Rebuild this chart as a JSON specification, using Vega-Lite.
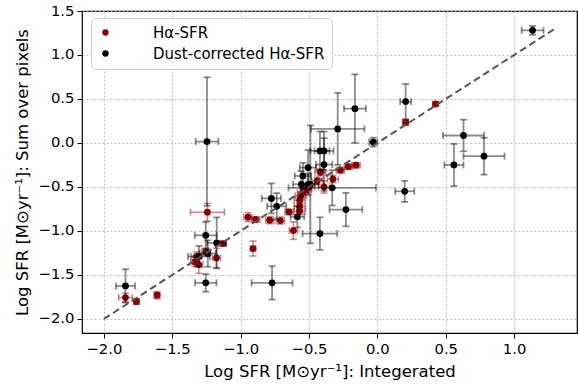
{
  "$schema": "https://vega.github.io/schema/vega-lite/v6.json",
  "width": 495,
  "height": 322,
  "autosize": {"type": "none"},
  "padding": {"left": 82, "top": 11, "right": 1, "bottom": 53},
  "background": "white",
  "config": {
    "font": "DejaVu Sans",
    "view": {"stroke": "black", "strokeWidth": 1.2},
    "axis": {
      "domain": false,
      "grid": true,
      "gridColor": "#b0b0b0",
      "gridDash": [2, 2],
      "gridWidth": 0.8,
      "tickColor": "black",
      "tickSize": 5,
      "labelPadding": 3,
      "labelFont": "DejaVu Sans",
      "labelFontSize": 14.8,
      "labelColor": "black",
      "titleFont": "DejaVu Sans",
      "titleFontSize": 16.5,
      "titleFontWeight": "normal",
      "titleColor": "black"
    },
    "legend": {
      "labelFont": "DejaVu Sans",
      "labelFontSize": 15,
      "labelColor": "black",
      "labelLimit": 400
    }
  },
  "datasets": {
    "ha": [
      {"s": "Hα-SFR", "x": 0.426, "y": 0.443, "xe": 0.02, "ye": 0.02},
      {"s": "Hα-SFR", "x": 0.207, "y": 0.232, "xe": 0.02, "ye": 0.03},
      {"s": "Hα-SFR", "x": -0.156, "y": -0.253, "xe": 0.03, "ye": 0.03},
      {"s": "Hα-SFR", "x": -0.212, "y": -0.27, "xe": 0.03, "ye": 0.03},
      {"s": "Hα-SFR", "x": -0.27, "y": -0.31, "xe": 0.03, "ye": 0.03},
      {"s": "Hα-SFR", "x": -0.417, "y": -0.333, "xe": 0.04, "ye": 0.04},
      {"s": "Hα-SFR", "x": -0.325, "y": -0.41, "xe": 0.04, "ye": 0.04},
      {"s": "Hα-SFR", "x": -0.44, "y": -0.43, "xe": 0.04, "ye": 0.04},
      {"s": "Hα-SFR", "x": -0.39, "y": -0.5, "xe": 0.04, "ye": 0.07},
      {"s": "Hα-SFR", "x": -0.52, "y": -0.53, "xe": 0.04, "ye": 0.04},
      {"s": "Hα-SFR", "x": -0.50, "y": -0.50, "xe": 0.04, "ye": 0.04},
      {"s": "Hα-SFR", "x": -0.544, "y": -0.557, "xe": 0.04, "ye": 0.04},
      {"s": "Hα-SFR", "x": -0.56, "y": -0.60, "xe": 0.04, "ye": 0.04},
      {"s": "Hα-SFR", "x": -0.568, "y": -0.65, "xe": 0.04, "ye": 0.04},
      {"s": "Hα-SFR", "x": -0.568, "y": -0.72, "xe": 0.04, "ye": 0.04},
      {"s": "Hα-SFR", "x": -0.568, "y": -0.776, "xe": 0.04, "ye": 0.04},
      {"s": "Hα-SFR", "x": -0.646, "y": -0.784, "xe": 0.03, "ye": 0.03},
      {"s": "Hα-SFR", "x": -0.614, "y": -0.996, "xe": 0.03, "ye": 0.1},
      {"s": "Hα-SFR", "x": -0.709, "y": -0.882, "xe": 0.03, "ye": 0.04},
      {"s": "Hα-SFR", "x": -0.787, "y": -0.878, "xe": 0.03, "ye": 0.04},
      {"s": "Hα-SFR", "x": -0.89, "y": -0.87, "xe": 0.03, "ye": 0.03},
      {"s": "Hα-SFR", "x": -0.946, "y": -0.844, "xe": 0.03, "ye": 0.05},
      {"s": "Hα-SFR", "x": -1.243, "y": -0.787, "xe": 0.124, "ye": 0.1},
      {"s": "Hα-SFR", "x": -0.909, "y": -1.2, "xe": 0.02, "ye": 0.085},
      {"s": "Hα-SFR", "x": -1.129, "y": -1.143, "xe": 0.02, "ye": 0.03},
      {"s": "Hα-SFR", "x": -1.177, "y": -1.307, "xe": 0.03, "ye": 0.11},
      {"s": "Hα-SFR", "x": -1.255, "y": -1.239, "xe": 0.03, "ye": 0.04},
      {"s": "Hα-SFR", "x": -1.323, "y": -1.288, "xe": 0.04, "ye": 0.05},
      {"s": "Hα-SFR", "x": -1.335, "y": -1.352, "xe": 0.03, "ye": 0.05},
      {"s": "Hα-SFR", "x": -1.306, "y": -1.382, "xe": 0.03, "ye": 0.1},
      {"s": "Hα-SFR", "x": -1.842, "y": -1.757, "xe": 0.05, "ye": 0.05},
      {"s": "Hα-SFR", "x": -1.762, "y": -1.802, "xe": 0.02, "ye": 0.03},
      {"s": "Hα-SFR", "x": -1.611, "y": -1.73, "xe": 0.02, "ye": 0.04}
    ],
    "dust": [
      {"s": "Dust-corrected Hα-SFR", "x": 1.135, "y": 1.28, "xe": 0.08, "ye": 0.05},
      {"s": "Dust-corrected Hα-SFR", "x": 0.207, "y": 0.47, "xe": 0.04, "ye": 0.2},
      {"s": "Dust-corrected Hα-SFR", "x": 0.63, "y": 0.085, "xe": 0.15, "ye": 0.18},
      {"s": "Dust-corrected Hα-SFR", "x": 0.78, "y": -0.15, "xe": 0.15, "ye": 0.21},
      {"s": "Dust-corrected Hα-SFR", "x": 0.56, "y": -0.25, "xe": 0.07, "ye": 0.24},
      {"s": "Dust-corrected Hα-SFR", "x": 0.2, "y": -0.55, "xe": 0.07, "ye": 0.12},
      {"s": "Dust-corrected Hα-SFR", "x": -0.03, "y": 0.01, "xe": 0.03, "ye": 0.05},
      {"s": "Dust-corrected Hα-SFR", "x": -0.164, "y": 0.39, "xe": 0.08, "ye": 0.39},
      {"s": "Dust-corrected Hα-SFR", "x": -0.29, "y": 0.16, "xe": 0.195, "ye": 0.41},
      {"s": "Dust-corrected Hα-SFR", "x": -0.42, "y": -0.09, "xe": 0.07, "ye": 0.22},
      {"s": "Dust-corrected Hα-SFR", "x": -0.39, "y": -0.09, "xe": 0.07, "ye": 0.22},
      {"s": "Dust-corrected Hα-SFR", "x": -0.39, "y": -0.245, "xe": 0.06, "ye": 0.3},
      {"s": "Dust-corrected Hα-SFR", "x": -0.33, "y": -0.51, "xe": 0.32, "ye": 0.2},
      {"s": "Dust-corrected Hα-SFR", "x": -0.23, "y": -0.757, "xe": 0.12, "ye": 0.19},
      {"s": "Dust-corrected Hα-SFR", "x": -0.42, "y": -1.03, "xe": 0.127, "ye": 0.185},
      {"s": "Dust-corrected Hα-SFR", "x": -0.77, "y": -1.59, "xe": 0.15, "ye": 0.19},
      {"s": "Dust-corrected Hα-SFR", "x": -1.255, "y": -1.59, "xe": 0.078, "ye": 0.1},
      {"s": "Dust-corrected Hα-SFR", "x": -1.255, "y": -1.05, "xe": 0.08, "ye": 0.15},
      {"s": "Dust-corrected Hα-SFR", "x": -1.175, "y": -1.136, "xe": 0.07, "ye": 0.29},
      {"s": "Dust-corrected Hα-SFR", "x": -1.246, "y": 0.016, "xe": 0.083, "ye": 0.73},
      {"s": "Dust-corrected Hα-SFR", "x": -1.305, "y": -1.29, "xe": 0.08, "ye": 0.12},
      {"s": "Dust-corrected Hα-SFR", "x": -1.24, "y": -1.257, "xe": 0.06, "ye": 0.15},
      {"s": "Dust-corrected Hα-SFR", "x": -1.842, "y": -1.625, "xe": 0.07, "ye": 0.19},
      {"s": "Dust-corrected Hα-SFR", "x": -0.775, "y": -0.63, "xe": 0.07, "ye": 0.17},
      {"s": "Dust-corrected Hα-SFR", "x": -0.736, "y": -0.72, "xe": 0.07, "ye": 0.15},
      {"s": "Dust-corrected Hα-SFR", "x": -0.556, "y": -0.47, "xe": 0.06, "ye": 0.15},
      {"s": "Dust-corrected Hα-SFR", "x": -0.49, "y": -0.47, "xe": 0.06, "ye": 0.67},
      {"s": "Dust-corrected Hα-SFR", "x": -0.585, "y": -0.84, "xe": 0.05, "ye": 0.12},
      {"s": "Dust-corrected Hα-SFR", "x": -0.507, "y": -0.28, "xe": 0.06, "ye": 0.2},
      {"s": "Dust-corrected Hα-SFR", "x": -0.544, "y": -0.375, "xe": 0.06, "ye": 0.15},
      {"s": "Dust-corrected Hα-SFR", "x": -0.507, "y": -0.47, "xe": 0.05, "ye": 0.12}
    ],
    "line": [
      {"x": -2.0, "y": -2.0},
      {"x": 1.3, "y": 1.3}
    ]
  },
  "encoding": {
    "x": {
      "field": "x",
      "type": "quantitative",
      "scale": {"domain": [-2.16, 1.46], "nice": false, "zero": false},
      "axis": {"values": [-2, -1.5, -1, -0.5, 0, 0.5, 1], "format": ".1f", "title": "Log SFR [M⊙yr⁻¹]: Integerated", "titlePadding": 8}
    },
    "y": {
      "field": "y",
      "type": "quantitative",
      "scale": {"domain": [-2.16, 1.5], "nice": false, "zero": false},
      "axis": {"values": [-2, -1.5, -1, -0.5, 0, 0.5, 1, 1.5], "format": ".1f", "title": "Log SFR [M⊙yr⁻¹]: Sum over pixels", "titlePadding": 8}
    }
  },
  "layer": [
    {
      "data": {"name": "ha"},
      "mark": {"type": "errorbar", "ticks": {"size": 7}, "color": "#8b0000", "opacity": 0.45, "thickness": 1.6},
      "encoding": {"xError": {"field": "xe"}}
    },
    {
      "data": {"name": "ha"},
      "mark": {"type": "errorbar", "ticks": {"size": 7}, "color": "#8b0000", "opacity": 0.45, "thickness": 1.6},
      "encoding": {"yError": {"field": "ye"}}
    },
    {
      "data": {"name": "ha"},
      "mark": {"type": "circle", "size": 46, "opacity": 1},
      "encoding": {
        "color": {
          "field": "s",
          "type": "nominal",
          "scale": {"domain": ["Hα-SFR", "Dust-corrected Hα-SFR"], "range": ["#8b0000", "#000000"]},
          "legend": {
            "title": null,
            "orient": "none",
            "legendX": 9,
            "legendY": 7,
            "padding": 7,
            "rowPadding": 5,
            "symbolType": "circle",
            "symbolSize": 40,
            "labelOffset": 40,
            "strokeColor": "#cccccc",
            "fillColor": "white",
            "cornerRadius": 4
          }
        }
      }
    },
    {
      "data": {"name": "dust"},
      "mark": {"type": "errorbar", "ticks": {"size": 7}, "color": "#000000", "opacity": 0.45, "thickness": 1.8},
      "encoding": {"xError": {"field": "xe"}}
    },
    {
      "data": {"name": "dust"},
      "mark": {"type": "errorbar", "ticks": {"size": 7}, "color": "#000000", "opacity": 0.45, "thickness": 1.8},
      "encoding": {"yError": {"field": "ye"}}
    },
    {
      "data": {"name": "dust"},
      "mark": {"type": "circle", "size": 46, "opacity": 1},
      "encoding": {"color": {"field": "s", "type": "nominal"}}
    },
    {
      "data": {"name": "line"},
      "mark": {"type": "line", "color": "#555555", "strokeWidth": 2, "strokeDash": [7, 4]},
      "encoding": {}
    }
  ]
}
